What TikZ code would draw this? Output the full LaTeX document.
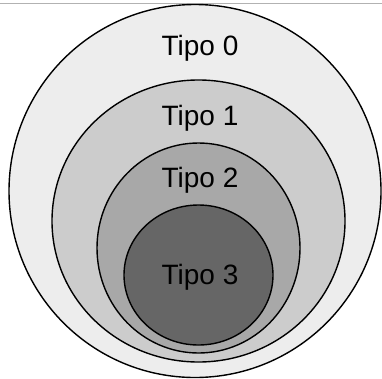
\documentclass[tikz,border=0pt]{standalone}
\usepackage{fontspec}
\setmainfont{Liberation Sans}
\usetikzlibrary{shapes.geometric}
\definecolor{g0}{gray}{0.93}
\definecolor{g1}{gray}{0.80}
\definecolor{g2}{gray}{0.66}
\definecolor{g3}{gray}{0.40}
\begin{document}
\begin{tikzpicture}[x=1pt,y=-1pt,
  ring/.style={ellipse, draw=black, line width=1.4pt, inner sep=0pt},
  lbl/.style={font=\fontsize{28}{28}\selectfont, text=black, inner sep=0pt}]
\useasboundingbox (0,0) rectangle (382,378);
\fill[white] (0,0) rectangle (382,378);
\draw[gray!60, line width=0.8pt] (0,3) -- (382,3);
\node[ring, fill=g0, minimum width=372pt, minimum height=373pt] (e0) at (195,191) {};
\node[ring, fill=g1, minimum width=293pt, minimum height=282pt] (e1) at (198.5,221) {};
\node[ring, fill=g2, minimum width=203pt, minimum height=210pt] (e2) at (198.5,248) {};
\node[ring, fill=g3, minimum width=149pt, minimum height=140pt] (e3) at (198.5,275) {};
\node[lbl] (t0) at (200,48) {Tipo 0};
\node[lbl] (t1) at (200,118) {Tipo 1};
\node[lbl] (t2) at (200,180) {Tipo 2};
\node[lbl] (t3) at (200,277) {Tipo 3};
\end{tikzpicture}
\end{document}
